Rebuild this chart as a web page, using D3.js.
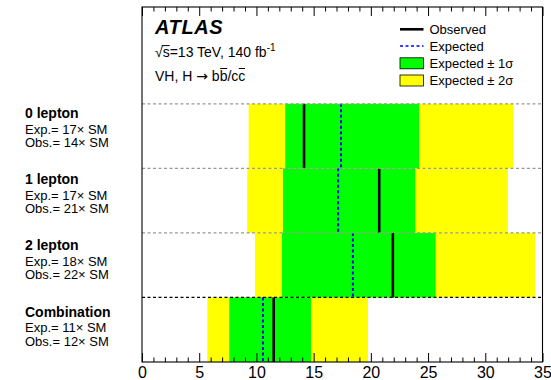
<!DOCTYPE html>
<html>
<head>
<meta charset="utf-8">
<script src="https://cdn.jsdelivr.net/npm/d3@7/dist/d3.min.js"></script>
<style>
  body { margin: 0; background: #fff; }
  svg { display: block; }
  text { font-family: "Liberation Sans", Arial, Helvetica, sans-serif; fill: #000; }
</style>
</head>
<body>
<svg id="chart" width="551" height="380"></svg>
<script>
// Signal-strength summary per channel (times the SM prediction)
const channels  = ["0 lepton", "1 lepton", "2 lepton", "Combination"];
const observed  = [14.16, 20.73, 21.92, 11.51];
const expected  = [17.39, 17.14, 18.43, 10.57];
const sigma1Lo  = [12.52, 12.32, 12.23, 7.63];
const sigma1Hi  = [24.21, 23.88, 25.66, 14.77];
const sigma2Lo  = [9.32, 9.20, 9.87, 5.71];
const sigma2Hi  = [32.45, 31.98, 34.34, 19.75];
const xTickValues = [0, 5, 10, 15, 20, 25, 30, 35];
const legendLabels = ["Observed", "Expected", "Expected \u00b1 1\u03c3", "Expected \u00b1 2\u03c3"];

const svg = d3.select("#chart");

const x = d3.scaleLinear().domain([0, 35]).range([142, 542.5]);
// vertical space: 4 channel rows stacked from the bottom plus room for the header
const y = d3.scaleLinear().domain([0, 5.5]).range([362, 7]);
const rowTop = i => y(channels.length - i);
const rowBottom = i => y(channels.length - 1 - i);

const rows = channels.map((c, i) => ({
  name: c, i,
  obs: observed[i], exp: expected[i],
  s1: [sigma1Lo[i], sigma1Hi[i]], s2: [sigma2Lo[i], sigma2Hi[i]]
}));

const plot = svg.append("g");

// ±2σ band
plot.selectAll("rect.s2").data(rows).join("rect")
  .attr("x", d => x(d.s2[0])).attr("width", d => x(d.s2[1]) - x(d.s2[0]))
  .attr("y", d => rowTop(d.i)).attr("height", d => rowBottom(d.i) - rowTop(d.i))
  .attr("fill", "#ffff00");

// ±1σ band
plot.selectAll("rect.s1").data(rows).join("rect")
  .attr("x", d => x(d.s1[0])).attr("width", d => x(d.s1[1]) - x(d.s1[0]))
  .attr("y", d => rowTop(d.i)).attr("height", d => rowBottom(d.i) - rowTop(d.i))
  .attr("fill", "#00ff00");

// expected (blue dashed)
plot.selectAll("line.exp").data(rows).join("line")
  .attr("x1", d => x(d.exp)).attr("x2", d => x(d.exp))
  .attr("y1", d => rowTop(d.i)).attr("y2", d => rowBottom(d.i))
  .attr("stroke", "#0000ff").attr("stroke-width", 2).attr("stroke-dasharray", "3,2.5");

// observed (solid black)
plot.selectAll("line.obs").data(rows).join("line")
  .attr("x1", d => x(d.obs)).attr("x2", d => x(d.obs))
  .attr("y1", d => rowTop(d.i)).attr("y2", d => rowBottom(d.i))
  .attr("stroke", "#000").attr("stroke-width", 2.6);

// row separators: grey between channels, black above the combination
const seps = [4, 3, 2, 1];
plot.selectAll("line.sep").data(seps).join("line")
  .attr("x1", x(0)).attr("x2", x(35))
  .attr("y1", d => y(d)).attr("y2", d => y(d))
  .attr("stroke", d => d === 1 ? "#000" : "#999")
  .attr("stroke-width", 1.2)
  .attr("stroke-dasharray", "3,2.5");

// axes: inward ticks on bottom and top
const minorValues = d3.range(0, 36).filter(v => v % 5 !== 0);
const axisStyle = g => { g.select(".domain").remove(); g.selectAll("line").attr("stroke", "#000"); };

svg.append("g").attr("transform", `translate(0,${y(0)})`)
  .call(d3.axisBottom(x).tickValues(xTickValues).tickSize(-9).tickPadding(5).tickFormat(d3.format("d")))
  .call(axisStyle)
  .call(g => g.selectAll("text").attr("font-size", 16).attr("font-family", '"Liberation Sans", Arial, sans-serif').attr("fill", "#000"));
svg.append("g").attr("transform", `translate(0,${y(0)})`)
  .call(d3.axisBottom(x).tickValues(minorValues).tickSize(-4.5).tickFormat(""))
  .call(axisStyle);
svg.append("g").attr("transform", `translate(0,${y(5.5)})`)
  .call(d3.axisTop(x).tickValues(xTickValues).tickSize(-9).tickFormat(""))
  .call(axisStyle);
svg.append("g").attr("transform", `translate(0,${y(5.5)})`)
  .call(d3.axisTop(x).tickValues(minorValues).tickSize(-4.5).tickFormat(""))
  .call(axisStyle);

// frame
svg.append("rect")
  .attr("x", x(0)).attr("y", y(5.5))
  .attr("width", x(35) - x(0)).attr("height", y(0) - y(5.5))
  .attr("fill", "none").attr("stroke", "#000").attr("stroke-width", 1.1);

// channel labels on the left
const labelY = d3.scaleLinear().domain([0, 3]).range([118.3, 316.5]);
const lab = svg.append("g");
rows.forEach(d => {
  const y0 = labelY(d.i);
  lab.append("text").attr("x", 25).attr("y", y0)
    .attr("font-size", 14).attr("font-weight", "bold").text(d.name);
  lab.append("text").attr("x", 25).attr("y", y0 + 15.5)
    .attr("font-size", 13).text(`Exp.= ${Math.round(d.exp)}\u00d7 SM`);
  lab.append("text").attr("x", 25).attr("y", y0 + 29)
    .attr("font-size", 13).text(`Obs.= ${Math.round(d.obs)}\u00d7 SM`);
});

// header text
svg.append("text").attr("x", 155).attr("y", 34.3)
  .attr("font-size", 20).attr("font-weight", "bold").attr("font-style", "italic")
  .attr("letter-spacing", 0.6).text("ATLAS");

const energy = svg.append("text").attr("x", 155).attr("y", 56.7).attr("font-size", 14);
energy.append("tspan").text("\u221as=13 TeV, 140 fb");
energy.append("tspan").attr("font-size", 10).attr("dy", -6).text("-1");

const proc = svg.append("text").attr("x", 155).attr("y", 81).attr("font-size", 14);
proc.append("tspan").text("VH, H ");
proc.append("tspan").attr("font-family", '"DejaVu Sans", sans-serif').attr("font-size", 14).text("\u2192");
proc.append("tspan").text(" bb/cc");
const procStr = "VH, H \u2192 bb/cc";

// overlines (sqrt bar over s, anti-quark bars)
function overline(textSel, idx, yy) {
  const ext = textSel.node().getExtentOfChar(idx);
  svg.append("line")
    .attr("x1", ext.x + 0.5).attr("x2", ext.x + ext.width - 0.3)
    .attr("y1", yy).attr("y2", yy)
    .attr("stroke", "#000").attr("stroke-width", 1);
}
{
  const ext0 = energy.node().getExtentOfChar(0);
  const ext1 = energy.node().getExtentOfChar(1);
  svg.append("line")
    .attr("x1", ext0.x + ext0.width - 1).attr("x2", ext1.x + ext1.width)
    .attr("y1", 45.6).attr("y2", 45.6)
    .attr("stroke", "#000").attr("stroke-width", 1);
}
overline(proc, procStr.indexOf("bb") + 1, 68.5);
overline(proc, procStr.indexOf("cc") + 1, 68.5);

// legend
const leg = svg.append("g");
const legX0 = 400, legX1 = 423.5, legTextX = 429.5;
const legY = [29.3, 46, 63.3, 80.5];
leg.append("line").attr("x1", legX0).attr("x2", legX1).attr("y1", legY[0]).attr("y2", legY[0])
  .attr("stroke", "#000").attr("stroke-width", 2.6);
leg.append("line").attr("x1", legX0).attr("x2", legX1).attr("y1", legY[1]).attr("y2", legY[1])
  .attr("stroke", "#0000ff").attr("stroke-width", 1.5).attr("stroke-dasharray", "3,2.5");
leg.append("rect").attr("x", legX0).attr("y", legY[2] - 5.5).attr("width", legX1 - legX0).attr("height", 11)
  .attr("fill", "#00ff00").attr("stroke", "#000").attr("stroke-width", 0.8);
leg.append("rect").attr("x", legX0).attr("y", legY[3] - 5.5).attr("width", legX1 - legX0).attr("height", 11)
  .attr("fill", "#ffff00").attr("stroke", "#000").attr("stroke-width", 0.8);
leg.selectAll("text").data(legendLabels).join("text")
  .attr("x", legTextX).attr("y", (d, i) => legY[i] + 4.5)
  .attr("font-size", 13).text(d => d);
</script>
</body>
</html>
